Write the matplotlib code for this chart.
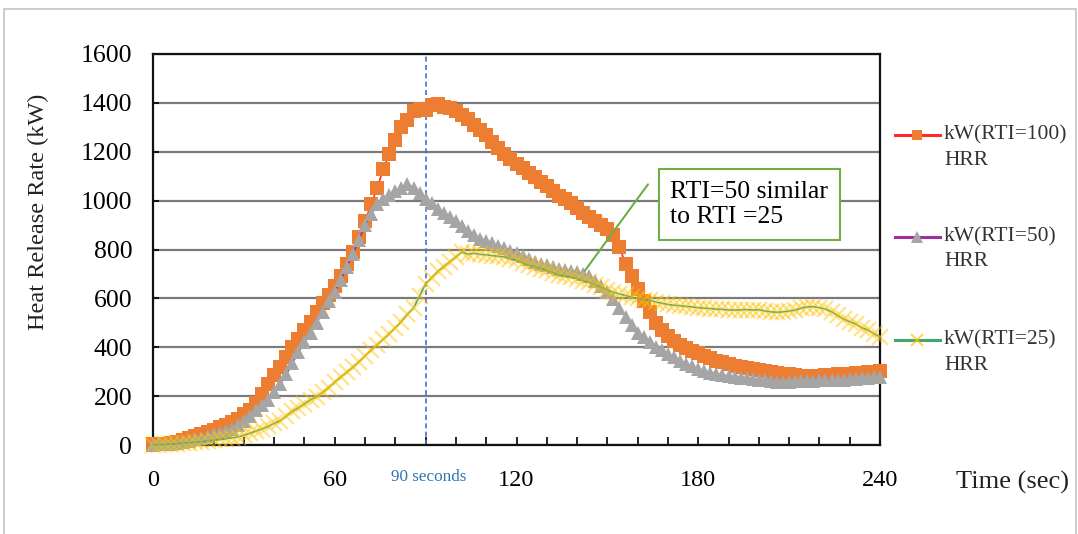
import numpy as np
import matplotlib
matplotlib.use('Agg')
import matplotlib.pyplot as plt
from matplotlib.lines import Line2D
from matplotlib.patches import Rectangle

# time axis, one reading every 2 seconds
time = np.arange(0, 241, 2)

hrrRti100 = [
    3, 4, 6, 9, 13, 20, 30, 38, 45, 52,
    62, 72, 82, 94, 108, 125, 145, 172, 210, 250,
    285, 318, 360, 400, 435, 470, 505, 545, 580, 615,
    650, 690, 740, 790, 850, 915, 985, 1050, 1130, 1190,
    1250, 1300, 1330, 1365, 1375, 1370, 1390, 1395, 1385, 1380,
    1365, 1350, 1335, 1310, 1290, 1270, 1240, 1215, 1190, 1170,
    1150, 1135, 1115, 1095, 1075, 1060, 1040, 1020, 1005, 990,
    970, 950, 935, 915, 900, 885, 860, 810, 740, 690,
    640, 590, 545, 500, 470, 445, 425, 410, 395, 385,
    375, 365, 355, 345, 338, 332, 325, 320, 316, 312,
    308, 303, 300, 296, 292, 290, 287, 284, 282, 281,
    283, 285, 286, 289, 290, 292, 294, 296, 298, 300,
    302,
]

hrrRti50 = [
    2, 3, 4, 6, 9, 13, 18, 24, 30, 36,
    43, 50, 58, 66, 80, 98, 120, 145, 165, 185,
    215, 250, 290, 335, 380, 420, 460, 500, 545, 590,
    625, 675, 730, 780, 840, 900, 945, 985, 1005, 1025,
    1040, 1050, 1070, 1050, 1030, 1005, 990, 965, 950, 935,
    915, 895, 875, 860, 845, 835, 825, 815, 808, 795,
    785, 772, 760, 750, 742, 735, 728, 720, 715, 712,
    706, 700, 690, 670, 650, 625, 597, 560, 525, 490,
    460, 440, 420, 402, 388, 372, 360, 345, 333, 322,
    312, 303, 295, 290, 285, 281, 278, 275, 273, 270,
    268, 265, 262, 258, 256, 258, 260, 261, 262, 263,
    264, 265, 266, 267, 268, 270, 272, 273, 275, 277,
    280,
]

hrrRti25 = [
    2, 2, 3, 4, 6, 8, 10, 12, 14, 17,
    20, 23, 26, 29, 33, 40, 48, 57, 66, 76,
    88, 100, 118, 138, 152, 168, 185, 198, 215, 235,
    258, 278, 298, 318, 340, 365, 388, 410, 432, 455,
    480, 505, 535, 560, 610, 660, 685, 710, 730, 750,
    770, 790, 780, 785, 780, 778, 775, 772, 770, 760,
    755, 745, 735, 730, 722, 715, 705, 695, 692, 688,
    680, 672, 665, 655, 645, 635, 625, 618, 612, 605,
    600, 595, 592, 585, 580, 575, 572, 570, 567, 565,
    562, 560, 558, 556, 555, 553, 552, 553, 554, 552,
    554, 548, 545, 543, 545, 548, 552, 560, 565, 566,
    562, 556, 545, 530, 515, 505, 495, 480, 470, 455,
    443,
]

labels = ['kW(RTI=100)', 'kW(RTI=50)', 'kW(RTI=25)']
xTicks = [0, 60, 120, 180, 240]
yTicks = list(range(0, 1601, 200))

SERIF = 'Liberation Serif'
W, H = 1078, 534

fig = plt.figure(figsize=(W / 100, H / 100), dpi=100)
ax = fig.add_axes([153 / W, 1 - 445 / H, 727 / W, 391 / H])

# 1. the three curves (thin line under a dense row of markers)

styles = [
    dict(color='#ff2a2a', marker='s', ms=9.5, mfc='#ed7d31', mec='#ed7d31', mew=0),
    dict(color='#a030a0', marker='^', ms=10, mfc='#a5a5a5', mec='#a5a5a5', mew=0),
    dict(color='#43a870', marker='x', ms=12, mfc='none', mec=(1.0, 0.76, 0.0, 0.45), mew=1.6),
]
legendStyles = [
    dict(color='#ff2a2a', marker='s', ms=7, mfc='#ed7d31', mec='#ed7d31', mew=0),
    dict(color='#a030a0', marker='^', ms=8, mfc='#a5a5a5', mec='#a5a5a5', mew=0),
    dict(color='#43a870', marker='x', ms=9, mfc='none', mec=(1.0, 0.76, 0.0, 0.7), mew=1.4),
]
for values, style in zip([hrrRti100, hrrRti50, hrrRti25], styles):
    ax.plot(time, values, lw=1.2, clip_on=False, zorder=3, **style)

# 2. axes, grid and ticks

ax.set_xlim(0, 240)
ax.set_ylim(0, 1600)
ax.set_xticks(xTicks)
ax.set_xticks(range(0, 241, 10), minor=True)
ax.set_yticks(yTicks)
ax.yaxis.grid(True, color='#7a7a7a', lw=1.6)
ax.set_axisbelow(True)
for spine in ax.spines.values():
    spine.set_color('#111111')
    spine.set_linewidth(1.6)
ax.tick_params(axis='x', which='both', direction='in', length=6, width=1.2, pad=18)
ax.tick_params(axis='y', direction='in', length=4, width=1.2, pad=15)
for lab in ax.get_xticklabels():
    lab.set_fontfamily(SERIF)
    lab.set_fontsize(17.5)
for lab in ax.get_yticklabels():
    lab.set_fontfamily(SERIF)
    lab.set_fontsize(18.5)

ax.set_ylabel('Heat Release Rate (kW)', fontfamily=SERIF, fontsize=17.5, color='#222222')
ax.yaxis.set_label_coords(-0.143, 0.596)
ax.set_xlabel('Time (sec)', fontfamily=SERIF, fontsize=19, color='#222222', ha='left', va='center')
ax.xaxis.set_label_coords(1.104, -0.097)

# 3. 90 seconds marker

ax.axvline(90, color='#4472c4', lw=1.2, dashes=(3, 2), zorder=2)
ax.text(91, -0.082, '90 seconds', transform=ax.get_xaxis_transform(),
        ha='center', va='center', fontfamily=SERIF, fontsize=12.3, color='#2e75b6')

# 4. callout box
ax.annotate(
    'RTI=50 similar\nto RTI =25',
    xy=(142.5, 712), xytext=(170.7, 985), textcoords='data',
    ha='left', va='center', fontfamily=SERIF, fontsize=18.5, linespacing=1.2,
    bbox=dict(boxstyle='square,pad=0.45', fc='white', ec='#70ad47', lw=1.5),
    arrowprops=dict(arrowstyle='-', color='#70ad47', lw=1.5, relpos=(-0.14, 0.92), shrinkA=0, shrinkB=0),
    zorder=5,
)

# 5. legend drawn at the right side, handle level with the first text line

legendY = [135, 237, 340]
for lab, style, py in zip(labels, legendStyles, legendY):
    yf = 1 - py / H
    fig.add_artist(Line2D([895 / W, 917 / W, 940 / W], [yf, yf, yf], transform=fig.transFigure,
                          lw=2.2, markevery=[1], **style))
    fig.text(944 / W, yf, lab, fontfamily=SERIF, fontsize=15.5, va='center', color='#333333')
    fig.text(944 / W, 1 - (py + 25) / H, 'HRR', fontfamily=SERIF, fontsize=15.5, va='center', color='#333333')

# outer chart frame
fig.add_artist(Rectangle((4 / W, -0.05), 1072 / W, 1.05 - 9 / H, transform=fig.transFigure,
                         fill=False, ec='#c4c4c4', lw=1.2))

fig.savefig('out.png', dpi=100)
